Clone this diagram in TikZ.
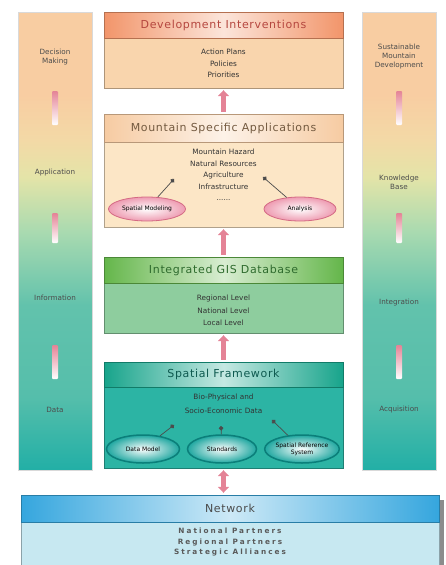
\documentclass[tikz,border=0pt]{standalone}
\usepackage{fontspec}
\setmainfont{DejaVu Sans}
\newfontfamily\titlefont[LetterSpace=6]{DejaVu Sans}
\newfontfamily\widefont[LetterSpace=28]{DejaVu Sans}
\usetikzlibrary{shapes.geometric,arrows.meta}

% colours of the side bars
\definecolor{barTop}{HTML}{F8CDA2}
\definecolor{barSand}{HTML}{F3D9A6}
\definecolor{barMid}{HTML}{E4E4A8}
\definecolor{barLow}{HTML}{A9DAB0}
\definecolor{barTeal}{HTML}{62C2AC}
\definecolor{barBot}{HTML}{22AFA6}
% colours of the boxes
\definecolor{devHd}{HTML}{F2956A}
\definecolor{devBd}{HTML}{F9D5AD}
\definecolor{devTx}{HTML}{B5473F}
\definecolor{appHd}{HTML}{F6CBA2}
\definecolor{appBd}{HTML}{FCE6C6}
\definecolor{appTx}{HTML}{735A40}
\definecolor{gisHd}{HTML}{64B64A}
\definecolor{gisBd}{HTML}{8ECD9E}
\definecolor{gisTx}{HTML}{2F6B2E}
\definecolor{sfHd}{HTML}{17A48B}
\definecolor{sfBd}{HTML}{2CB4A4}
\definecolor{sfTx}{HTML}{0E5A50}
\definecolor{netHd}{HTML}{35A6DE}
\definecolor{netBd}{HTML}{C7E8F1}
\definecolor{netTx}{HTML}{4A4A4A}
\definecolor{arrowPink}{HTML}{E48396}
\definecolor{ellPink}{HTML}{EE9CB2}
\definecolor{ellPinkRim}{HTML}{D46A84}
\definecolor{ellTeal}{HTML}{1FA7A0}
\definecolor{ellTealRim}{HTML}{0B7F7A}

\pgfdeclareverticalshading{barfade}{100bp}{color(0bp)=(barBot); color(25bp)=(barBot); color(33bp)=(barTeal!80!barBot); color(43bp)=(barTeal); color(51bp)=(barLow); color(57bp)=(barMid); color(61bp)=(barSand); color(66bp)=(barTop); color(100bp)=(barTop)}

\begin{document}
\begin{tikzpicture}[x=1pt,y=-1pt,
    sidebar/.style={draw=black!15, shade, shading=barfade, minimum width=74pt, minimum height=458pt, inner sep=0pt},
    fadebar/.style={top color=arrowPink, bottom color=white, minimum width=6pt, minimum height=34pt, inner sep=0pt, rounded corners=1pt},
    sidelabel/.style={font=\fontsize{7.2}{9}\selectfont, text=black!70, align=center},
    header/.style={draw=#1!75!black, left color=#1, right color=#1, middle color=#1!25!white, minimum width=239pt, minimum height=26pt, inner sep=0pt, font=\titlefont\fontsize{11}{13}\selectfont},
    body/.style={draw=#1!70!black, fill=#1, minimum width=239pt, inner sep=0pt},
    bodytext/.style={font=\fontsize{7.3}{11.5}\selectfont, text=black!80, align=center},
    uparrow/.style={draw=arrowPink, line width=5pt, -{Triangle[width=11pt,length=6pt]}, shorten >=2pt, shorten <=2pt},
    dotarrow/.style={draw=black!70, line width=0.7pt, -{Circle[length=4.5pt]}},
    pinkell/.style={ellipse, draw=ellPinkRim, line width=0.8pt, inner color=white, outer color=ellPink, inner sep=0pt, font=\fontsize{6}{7}\selectfont, align=center},
    tealell/.style={ellipse, draw=ellTealRim, line width=1.5pt, inner color=white, outer color=ellTeal, inner sep=0pt, minimum height=28pt, font=\fontsize{6}{7}\selectfont, align=center}
  ]
  \useasboundingbox (0,0) rectangle (446,565);

  % Left bar
  \node[sidebar] (leftBar) at (55,241) {};
  \node[sidelabel] (decision) at (55,57) {Decision\\Making};
  \node[fadebar] (lStep1) at (55,108) {};
  \node[sidelabel] (application) at (55,173) {Application};
  \node[fadebar, minimum height=30pt] (lStep2) at (55,228) {};
  \node[sidelabel] (information) at (55,298) {Information};
  \node[fadebar] (lStep3) at (55,362) {};
  \node[sidelabel] (data) at (55,410) {Data};

  % Right bar
  \node[sidebar] (rightBar) at (399,241) {};
  \node[sidelabel] (sustain) at (399,57) {Sustainable\\Mountain\\Development};
  \node[fadebar] (rStep1) at (399,108) {};
  \node[sidelabel] (knowledge) at (399,182) {Knowledge\\Base};
  \node[fadebar, minimum height=30pt] (rStep2) at (399,228) {};
  \node[sidelabel] (integration) at (399,303) {Integration};
  \node[fadebar] (rStep3) at (399,362) {};
  \node[sidelabel] (acquisition) at (399,410) {Acquisition};

  % Development interventions
  \node[body=devBd, minimum height=50pt] (devBody) at (223.5,63) {};
  \node[header=devHd, text=devTx] (devHead) at (223.5,25) {Development Interventions};
  \node[bodytext] (devText) at (223.5,63.5) {Action Plans\\Policies\\Priorities};

  % Mountain specific applications
  \node[body=appBd, minimum height=85pt] (appBody) at (223.5,184.5) {};
  \node[header=appHd, minimum height=28pt, text=appTx] (appHead) at (223.5,128) {Mountain Specific Applications};
  \node[bodytext] (appText) at (223.5,175) {Mountain Hazard\\Natural Resources\\Agriculture\\Infrastructure\\......};
  \node[pinkell, minimum width=77pt, minimum height=24pt] (smod) at (147,209) {Spatial Modeling};
  \node[pinkell, minimum width=72pt, minimum height=24pt] (analysis) at (300,209) {Analysis};
  \coordinate (smodTip) at (174,179);
  \coordinate (analysisTip) at (263,177);
  \draw[dotarrow] (smod) -- (smodTip);
  \draw[dotarrow] (analysis) -- (analysisTip);

  % Integrated GIS database
  \node[body=gisBd, minimum height=50pt] (gisBody) at (223.5,308) {};
  \node[header=gisHd, text=gisTx] (gisHead) at (223.5,270) {Integrated GIS Database};
  \node[bodytext, font=\fontsize{7.3}{12.5}\selectfont] (gisText) at (223.5,310.5) {Regional Level\\National Level\\Local Level};

  % Spatial framework
  \node[body=sfBd, minimum height=81pt] (sfBody) at (223.5,427.5) {};
  \node[header=sfHd, minimum height=25pt, text=sfTx] (sfHead) at (223.5,374.5) {Spatial Framework};
  \node[bodytext, font=\fontsize{7.3}{14}\selectfont] (sfText) at (223.5,404) {Bio-Physical and\\Socio-Economic Data};
  \node[tealell, minimum width=73pt] (dmodel) at (143,449) {Data Model};
  \node[tealell, minimum width=69pt] (standards) at (222,449) {Standards};
  \node[tealell, minimum width=70pt] (srs) at (302,449) {Spatial Reference\\System};
  \coordinate (dmodelTip) at (174,425);
  \coordinate (standardsTip) at (221,426);
  \coordinate (srsTip) at (272,420);
  \draw[dotarrow] (dmodel) -- (dmodelTip);
  \draw[dotarrow] (standards) -- (standardsTip);
  \draw[dotarrow] (srs) -- (srsTip);

  % Network
  \fill[black!45] (439,500) rectangle (444,565);
  \node[body=netBd, minimum width=418pt, minimum height=43pt] (netBody) at (230,543.5) {};
  \node[header=netHd, minimum width=418pt, minimum height=27pt, text=netTx] (netHead) at (230,508.5) {Network};
  \node[bodytext, font=\widefont\bfseries\fontsize{7.3}{10.5}\selectfont, text=black!65] (netText) at (230,542.5) {National Partners\\Regional Partners\\Strategic Alliances};

  % Arrows between the boxes
  \draw[uparrow] (appHead.north) -- (devBody.south);
  \draw[uparrow] (gisHead.north) -- (appBody.south);
  \draw[uparrow] (sfHead.north) -- (gisBody.south);
  \draw[uparrow, {Triangle[width=11pt,length=6pt]}-{Triangle[width=11pt,length=6pt]}] (sfBody.south |- netHead.north) -- (sfBody.south);
\end{tikzpicture}
\end{document}
